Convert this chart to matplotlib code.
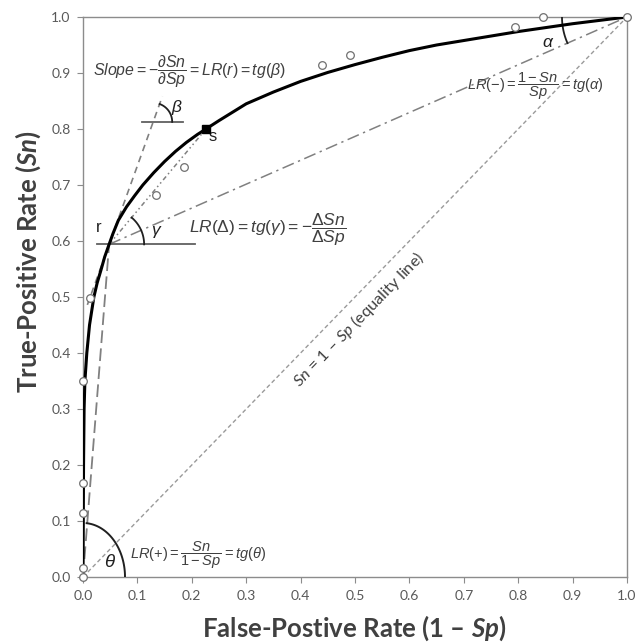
import numpy as np
import matplotlib
matplotlib.use("Agg")
import matplotlib.pyplot as plt

plt.rcParams['mathtext.fontset'] = 'custom'
plt.rcParams['mathtext.rm'] = 'Liberation Sans'
plt.rcParams['mathtext.it'] = 'Liberation Sans:italic'
plt.rcParams['mathtext.bf'] = 'Liberation Sans:bold'
plt.rcParams['mathtext.sf'] = 'Lato:italic'
plt.rcParams['mathtext.bfit'] = 'Lato:bold:italic'
plt.rcParams['mathtext.fallback'] = 'stixsans'
plt.rcParams['font.family'] = ['Lato', 'DejaVu Sans']

# ---------------- data ----------------
roc_fpr = [0, 0.0005, 0.001, 0.002, 0.0035, 0.007, 0.012, 0.02, 0.026, 0.033, 0.04, 0.048,
           0.055, 0.065, 0.08, 0.095, 0.11, 0.13, 0.15, 0.17, 0.19, 0.21, 0.226,
           0.25, 0.3, 0.35, 0.4, 0.45, 0.5, 0.55, 0.6, 0.65, 0.7, 0.75, 0.8, 0.85,
           0.9, 0.95, 1.0]
roc_tpr = [0, 0.1, 0.2, 0.3, 0.35, 0.40, 0.45, 0.50, 0.525, 0.548, 0.572, 0.594,
           0.613, 0.637, 0.661, 0.681, 0.700, 0.722, 0.742, 0.760, 0.776, 0.790, 0.80,
           0.815, 0.845, 0.866, 0.885, 0.901, 0.915, 0.928, 0.94, 0.95, 0.958, 0.966,
           0.974, 0.981, 0.988, 0.994, 1.0]

emp_fpr = [0, 0, 0, 0, 0, 0.013, 0.134, 0.186, 0.439, 0.49, 0.794, 0.845, 1.0]
emp_tpr = [0, 0.016, 0.115, 0.167, 0.35, 0.498, 0.682, 0.733, 0.914, 0.932, 0.983, 1.0, 1.0]

r_pt = (0.048, 0.594)
s_pt = (0.226, 0.80)
tangent_slope = 2.7

xticks = [0.0, 0.1, 0.2, 0.3, 0.4, 0.5, 0.6, 0.7, 0.8, 0.9, 1.0]
yticks = [0.0, 0.1, 0.2, 0.3, 0.4, 0.5, 0.6, 0.7, 0.8, 0.9, 1.0]

# ---------------- figure ----------------
W, H = 635, 644
fig = plt.figure(figsize=(W / 100, H / 100), dpi=100)
ax_l, ax_r, ax_t, ax_b = 83, 627, 17, 577
ax = fig.add_axes([ax_l / W, (H - ax_b) / H, (ax_r - ax_l) / W, (ax_b - ax_t) / H])
ax.set_xlim(0, 1)
ax.set_ylim(0, 1)
pxx = 1.0 / (ax_r - ax_l)   # data units per pixel
pxy = 1.0 / (ax_b - ax_t)

gray = '#808080'
txtc = '#404040'

# equality line
ax.plot([0, 1], [0, 1], color='#9a9a9a', lw=1.0, ls=(0, (3, 2)), zorder=2)
# LR(+) line (origin -> r)
ax.plot([0, r_pt[0]], [0, r_pt[1]], color=gray, lw=1.3, ls=(0, (7, 3)), zorder=2)
# tangent at r
tx = np.array([0.008, 0.146])
ax.plot(tx, r_pt[1] + tangent_slope * (tx - r_pt[0]), color=gray, lw=1.2,
        ls=(0, (4, 3)), zorder=2)
# LR(-) line (r -> (1,1))
ax.plot([r_pt[0], 1], [r_pt[1], 1], color=gray, lw=1.1, ls=(0, (8, 3, 1.5, 3)), zorder=2)
# chord r -> s
ax.plot([r_pt[0], s_pt[0]], [r_pt[1], s_pt[1]], color=gray, lw=1.1,
        ls=(0, (3, 2, 1, 2, 1, 2)), zorder=2)

# horizontal reference lines
ax.plot([r_pt[0] - 0.023, r_pt[0] + 0.157], [r_pt[1], r_pt[1]], color='#606060', lw=1.3, zorder=3)
by = r_pt[1] + tangent_slope * (0.129 - r_pt[0])
ax.plot([0.108, 0.184], [by, by], color='#606060', lw=1.3, zorder=3)

# arcs (drawn in pixel-circular geometry)
def arc(cx, cy, rx_px, ry_px, t1, t2, **kw):
    t = np.radians(np.linspace(t1, t2, 60))
    ax.plot(cx + rx_px * pxx * np.cos(t), cy + ry_px * pxy * np.sin(t), **kw)

ang_tan = np.degrees(np.arctan(tangent_slope * (ax_b - ax_t) / (ax_r - ax_l)))
ang_chord = np.degrees(np.arctan2((s_pt[1] - r_pt[1]) / pxy, (s_pt[0] - r_pt[0]) / pxx))
ang_neg = np.degrees(np.arctan2((1 - r_pt[1]) / pxy, (1 - r_pt[0]) / pxx))
arc(0, 0, 42, 54, 0, 85, color='#202020', lw=1.4, zorder=4)
arc(r_pt[0], r_pt[1], 35, 35, 0, ang_chord, color='#202020', lw=1.3, zorder=4)
arc(0.129, by, 19, 19, 0, ang_tan, color='#202020', lw=1.3, zorder=4)
arc(1, 1, 65, 65, 180, 180 + ang_neg, color='#202020', lw=1.3, zorder=4)

# ROC curve
ax.plot(roc_fpr, roc_tpr, color='black', lw=2.2, zorder=5, solid_joinstyle='round',
        solid_capstyle='round')
# empirical points
ax.plot(emp_fpr, emp_tpr, ls='none', marker='o', ms=5.5, mfc='white', mec='#707070',
        mew=0.9, zorder=6, clip_on=False)
ax.plot([s_pt[0]], [s_pt[1]], ls='none', marker='s', ms=5.5, color='black', zorder=7)

# labels
ax.text(0.195, 0.902, r'$Slope = -\dfrac{\partial Sn}{\partial Sp} = LR(r) = tg(\beta)$',
        ha='center', va='center', fontsize=11.4, color=txtc)
ax.text(0.831, 0.876, r'$LR(-) = \dfrac{1 - Sn}{Sp} = tg(\alpha)$',
        ha='center', va='center', fontsize=10.5, color=txtc)
ax.text(0.195, 0.62, r'$LR(\Delta) = tg(\gamma) = -\dfrac{\Delta Sn}{\Delta Sp}$',
        ha='left', va='center', fontsize=12.5, color=txtc)
ax.text(0.086, 0.039, r'$LR(+) = \dfrac{Sn}{1 - Sp} = tg(\theta)$',
        ha='left', va='center', fontsize=10.5, color=txtc)

ax.text(0.028, 0.625, 'r', fontsize=12, color='#202020', ha='center', va='center',
        family='Liberation Sans')
ax.text(0.239, 0.786, 's', fontsize=12, color='#202020', ha='center', va='center',
        family='Liberation Sans')
ax.text(0.05, 0.027, r'$\theta$', fontsize=13.5, color='#202020', ha='center', va='center')
ax.text(0.136, 0.616, r'$\gamma$', fontsize=12.5, color='#202020', ha='center', va='center')
ax.text(0.173, 0.839, r'$\beta$', fontsize=12.5, color='#202020', ha='center', va='center')
ax.text(0.855, 0.955, r'$\alpha$', fontsize=12.5, color='#202020', ha='center', va='center')

ang_eq = np.degrees(np.arctan((ax_b - ax_t) / (ax_r - ax_l)))
ax.annotate(r'$\mathsf{Sn}$ = 1 – $\mathsf{Sp}$ (equality line)', xy=(0.483, 0.483),
            xytext=(9.3, -9.0), textcoords='offset points', ha='center', va='center',
            rotation=ang_eq, rotation_mode='anchor', fontsize=11.8, color=txtc)

# axes styling
for sp in ax.spines.values():
    sp.set_color('#8c8c8c')
    sp.set_linewidth(1.0)
ax.set_xticks(xticks)
ax.set_yticks(yticks)
ax.set_xticklabels([f'{v:.1f}' for v in xticks])
ax.set_yticklabels([f'{v:.1f}' for v in yticks])
ax.tick_params(direction='out', length=4, width=0.8, color='#8c8c8c',
               labelsize=10, labelcolor='#595959', pad=5)

fig.text(354 / W, (H - 637) / H, r'False-Postive Rate (1 – $\mathbfit{Sp}$)', fontsize=18.5,
         fontweight='bold', color=txtc, ha='center', va='baseline')
fig.text(37 / W, (H - 262) / H, r'True-Positive Rate ($\mathbfit{Sn}$)', fontsize=18.5,
         fontweight='bold', color=txtc, ha='center', va='baseline', rotation=90,
         rotation_mode='anchor')

fig.savefig('out.png', dpi=100)
